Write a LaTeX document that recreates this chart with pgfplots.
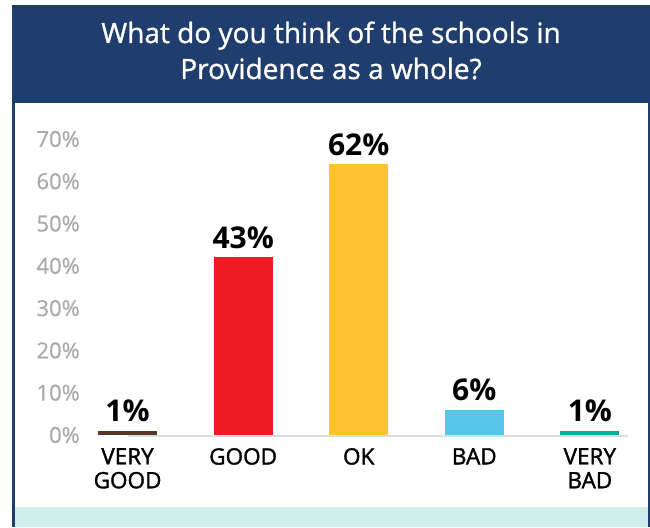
\documentclass[border=0pt]{standalone}
\usepackage{pgfplots}
\pgfplotsset{compat=1.18}
\usepackage{fontspec}
\setmainfont{Open Sans}
\newfontfamily\medfont{Open Sans}[FakeBold=1.6]
\newfontfamily\lightmed{Open Sans}[FakeBold=1.0]
\newfontfamily\tickfont{Open Sans}[FakeBold=0.6]
\definecolor{navy}{RGB}{31,61,109}
\definecolor{cyanband}{RGB}{207,238,236}
\definecolor{cbrown}{RGB}{85,56,41}
\definecolor{cred}{RGB}{237,28,36}
\definecolor{cyellow}{RGB}{255,194,48}
\definecolor{cblue}{RGB}{85,199,233}
\definecolor{cteal}{RGB}{0,174,154}
\definecolor{tickgray}{RGB}{170,170,170}
\definecolor{basegray}{RGB}{221,221,221}
\begin{document}
\begin{tikzpicture}[x=1pt,y=1pt]
\fill[white] (0,0) rectangle (650,527);
\fill[navy] (12,424.3) rectangle (650,522);
\fill[navy] (12,0) rectangle (14.7,424.3);
\fill[navy] (647.7,0) rectangle (650,424.3);
\fill[cyanband] (14.7,0) rectangle (647.7,20);
\node[text=white, anchor=base, inner sep=0pt, font=\lightmed\fontsize{28}{36}\selectfont] at (331,484) {What do you think of the schools in};
\node[text=white, anchor=base, inner sep=0pt, font=\lightmed\fontsize{28}{36}\selectfont] at (331,448) {Providence as a whole?};
\begin{axis}[
  at={(90pt,92pt)}, anchor=south west,
  scale only axis, width=538pt, height=296pt,
  xmin=-0.325, xmax=4.33, ymin=0, ymax=70,
  axis line style={draw=none},
  major tick length=0pt,
  ytick={0,10,...,70},
  yticklabel={\pgfmathprintnumber{\tick}\%},
  /pgf/number format/assume math mode=true,
  yticklabel style={font=\tickfont\fontsize{22}{24}\selectfont, text=tickgray, anchor=east, inner sep=0pt, xshift=-10pt},
  xtick={0,1,2,3,4},
  xticklabels={{VERY\\GOOD},GOOD,OK,BAD,{VERY\\BAD}},
  xticklabel style={font=\medfont\fontsize{22.5}{24}\selectfont, text=black, align=center, anchor=north, inner sep=0pt, yshift=-13pt},
  clip=false,
  ybar, bar width=0.51, bar shift=0pt,
  point meta=explicit symbolic,
  nodes near coords,
  nodes near coords style={anchor=base, yshift=9pt, text=black, inner sep=0pt, font=\fontsize{30}{32}\selectfont\bfseries},
]
\draw[basegray, line width=2.2pt] (axis cs:-0.325,0) ++(0,-1.1pt) -- ([yshift=-1.1pt]axis cs:4.33,0);
\addplot[fill=cbrown, draw=none] coordinates {(0,1) [1\%]};
\addplot[fill=cred, draw=none] coordinates {(1,42) [43\%]};
\addplot[fill=cyellow, draw=none] coordinates {(2,64) [62\%]};
\addplot[fill=cblue, draw=none] coordinates {(3,6) [6\%]};
\addplot[fill=cteal, draw=none] coordinates {(4,1) [1\%]};
\end{axis}
\end{tikzpicture}
\end{document}
